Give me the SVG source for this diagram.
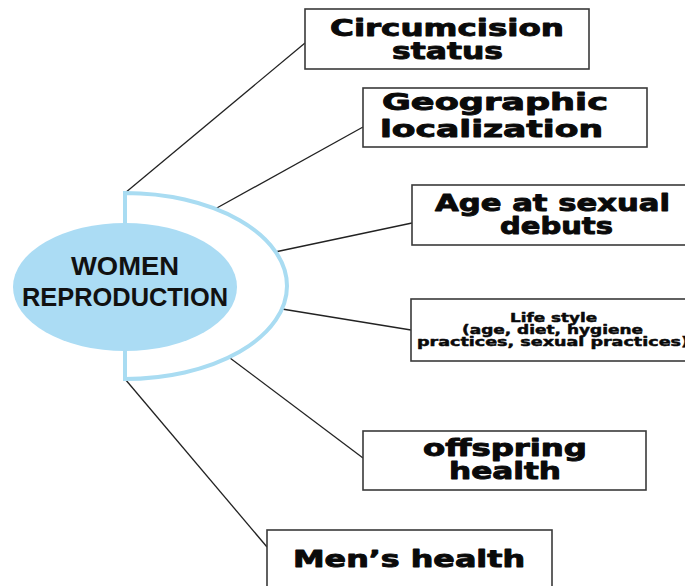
<svg xmlns="http://www.w3.org/2000/svg" width="685" height="586" viewBox="0 0 685 586">
<style>
.box{fill:#fff;stroke:#3a3a3a;stroke-width:1.6}
.lbl{font-family:"DejaVu Sans","Liberation Sans",sans-serif;font-weight:bold;font-size:23px;fill:#0a0a0a;stroke:#0a0a0a;stroke-width:0.9;stroke-linejoin:round}
.sm{font-size:13px;stroke-width:0.5}
.conn{stroke:#222;stroke-width:1.3;fill:none}
.ctr{font-family:"Liberation Sans",Arial,sans-serif;font-weight:bold;font-size:25px;fill:#111;text-anchor:middle}
</style>
<rect width="685" height="586" fill="#fff"/>
<g id="connectors">
<line class="conn" x1="125" y1="193" x2="305" y2="43"/>
<line class="conn" x1="215" y1="209" x2="363" y2="127"/>
<line class="conn" x1="275" y1="252" x2="412" y2="223"/>
<line class="conn" x1="282" y1="309" x2="411" y2="330"/>
<line class="conn" x1="230" y1="358" x2="363" y2="458"/>
<line class="conn" x1="125" y1="379" x2="267" y2="547"/>
</g>
<g id="center">
<path d="M125,193 A162,93 0 0 1 125,379 Z" fill="none" stroke="#a9dcf2" stroke-width="4"/>
<ellipse cx="125" cy="287" rx="112" ry="64" fill="#abdcf4"/>
<text class="ctr" x="125" y="275" textLength="108" lengthAdjust="spacingAndGlyphs">WOMEN</text>
<text class="ctr" x="125" y="306" textLength="206" lengthAdjust="spacingAndGlyphs">REPRODUCTION</text>
</g>
<g id="circumcision">
<rect class="box" x="305" y="9" width="284" height="60"/>
<text class="lbl" x="330" y="36" textLength="234" lengthAdjust="spacingAndGlyphs">Circumcision</text>
<text class="lbl" x="392" y="59" textLength="111" lengthAdjust="spacingAndGlyphs">status</text>
</g>
<g id="geographic">
<rect class="box" x="363" y="88" width="284" height="59"/>
<text class="lbl" x="382" y="110" textLength="226" lengthAdjust="spacingAndGlyphs">Geographic</text>
<text class="lbl" x="380" y="137" textLength="223" lengthAdjust="spacingAndGlyphs">localization</text>
</g>
<g id="age">
<rect class="box" x="412" y="185" width="283" height="60"/>
<text class="lbl" x="435" y="211" textLength="235" lengthAdjust="spacingAndGlyphs">Age at sexual</text>
<text class="lbl" x="500" y="234" textLength="113" lengthAdjust="spacingAndGlyphs">debuts</text>
</g>
<g id="lifestyle">
<rect class="box" x="411" y="299" width="285" height="62"/>
<text class="lbl sm" x="510" y="322" textLength="87" lengthAdjust="spacingAndGlyphs">Life style</text>
<text class="lbl sm" x="462" y="334" textLength="181" lengthAdjust="spacingAndGlyphs">(age, diet, hygiene</text>
<text class="lbl sm" x="417" y="346" textLength="272" lengthAdjust="spacingAndGlyphs">practices, sexual practices)</text>
</g>
<g id="offspring">
<rect class="box" x="363" y="431" width="283" height="59"/>
<text class="lbl" x="423" y="456" textLength="164" lengthAdjust="spacingAndGlyphs">offspring</text>
<text class="lbl" x="449" y="479" textLength="112" lengthAdjust="spacingAndGlyphs">health</text>
</g>
<g id="menshealth">
<rect class="box" x="267" y="530" width="285" height="64"/>
<text class="lbl" x="293" y="567" textLength="232" lengthAdjust="spacingAndGlyphs">Men’s health</text>
</g>
</svg>
